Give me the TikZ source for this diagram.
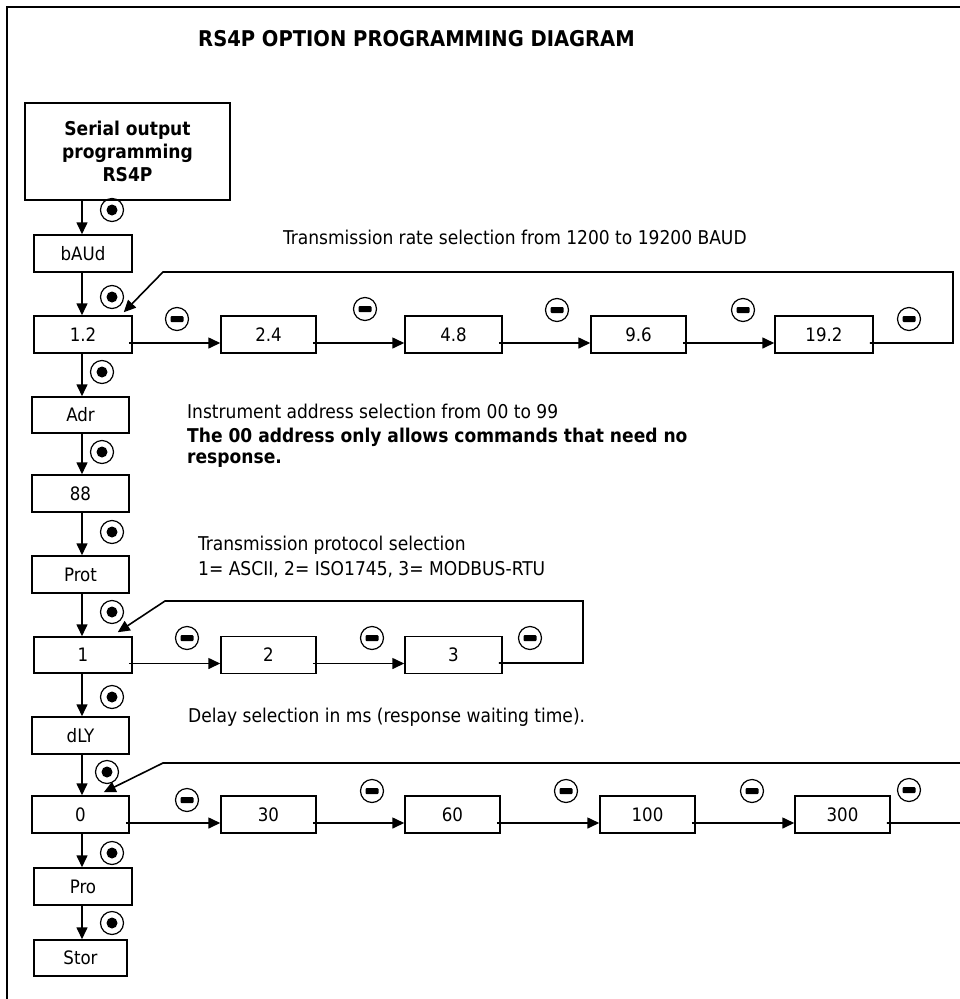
\documentclass[tikz,border=0pt]{standalone}
\usepackage{fontspec}
\setmainfont{DejaVu Sans Condensed}
\usetikzlibrary{arrows.meta,
positioning}
\tikzset{
  % boxes of the menu
  menubox/.style={draw, line width=1.5pt, minimum width=95pt, minimum height=37pt,
    inner sep=0pt, font=\fontsize{18.5}{20}\selectfont},
  % arrows from box to box
  flow/.style={draw, line width=1.6pt, -{Triangle[length=12pt,width=11pt]}},
  % the two keys of the instrument
  enterkey/.style={circle, draw, line width=1.2pt, minimum size=23pt, inner sep=0pt,
    path picture={\fill (path picture bounding box.center) circle (5.5pt);}},
  minuskey/.style={circle, draw, line width=1.2pt, minimum size=23pt, inner sep=0pt,
    path picture={\fill[rounded corners=1pt]
      ([xshift=-6.5pt,yshift=-3pt]path picture bounding box.center) rectangle
      ([xshift=6.5pt,yshift=3pt]path picture bounding box.center);}},
  note/.style={anchor=base west, inner sep=0pt, font=\fontsize{19}{20}\selectfont},
}

\begin{document}
\begin{tikzpicture}[x=1pt, y=-1pt]
            \clip (0,0) rectangle (960,999);
            \fill[white] (0,0) rectangle (960,999);
            \draw[line width=1.8pt] (7,1020) -- (7,7) -- (980,7);

            \node[font=\fontsize{21.7}{23}\selectfont\bfseries, anchor=base] (title) at (416.5,46)
              {RS4P OPTION PROGRAMMING DIAGRAM};

            % main column
            \node[menubox, minimum width=205pt, minimum height=97pt, align=center,
              font=\fontsize{19}{23}\selectfont\bfseries] (serial) at (127.5,151.5)
              {Serial output\\programming\\RS4P};
            \node[menubox, minimum width=98pt] (baud) at (83,253.5) {bAUd};
            \node[menubox, minimum width=98pt] (r12) at (83,334.5) {1.2};
            \node[menubox, minimum width=97pt, minimum height=36pt] (adr) at (80.5,415) {Adr};
            \node[menubox, minimum width=97pt] (a88) at (80.5,493.5) {88};
            \node[menubox, minimum width=97pt] (prot) at (80.5,574.5) {Prot};
            \node[menubox, minimum width=98pt, minimum height=36pt] (p1) at (83,655) {1};
            \node[menubox, minimum width=97pt] (dly) at (80.5,735.5) {dLY};
            \node[menubox, minimum width=97pt] (d0) at (80.5,814.5) {0};
            \node[menubox, minimum width=98pt] (pro) at (83,886.5) {Pro};
            \node[menubox, minimum width=93pt, minimum height=36pt] (stor) at (80.5,958) {Stor};

            % baud rate row
            \node[menubox] (r24) at (268.5,334.5) {2.4};
            \node[menubox, minimum width=97pt] (r48) at (453.5,334.5) {4.8};
            \node[menubox] (r96) at (638.5,334.5) {9.6};
            \node[menubox, minimum width=98pt] (r192) at (824,334.5) {19.2};

            % protocol row
            \node[menubox] (p2) at (268.5,655) {2};
            \node[menubox, minimum width=97pt] (p3) at (453.5,655) {3};

            % delay row
            \node[menubox] (d30) at (268.5,814.5) {30};
            \node[menubox] (d60) at (452.5,814.5) {60};
            \node[menubox] (d100) at (647.5,814.5) {100};
            \node[menubox] (d300) at (842.5,814.5) {300};

            % notes
            \node[note] (trate) at (283,244) {Transmission rate selection from 1200 to 19200 BAUD};
            \node[note] (tadr) at (187,418) {Instrument address selection from 00 to 99};
            \node[note, font=\fontsize{19}{20}\selectfont\bfseries] (tadrb) at (187,442)
              {The 00 address only allows commands that need no};
            \node[note, font=\fontsize{19}{20}\selectfont\bfseries] (tadrc) at (187,463) {response.};
            \node[note] (tprot) at (198,550) {Transmission protocol selection};
            \node[note] (tprotb) at (198,575) {1= ASCII, 2= ISO1745, 3= MODBUS-RTU};
            \node[note] (tdly) at (188,722) {Delay selection in ms (response waiting time).};

            % enter key marks
            \foreach \x/\y [count=\i] in {112/210, 112/297, 102/372, 102/452, 112/532,
              112/612, 112/697, 107/772, 112/853, 112/923}
              \node[enterkey] (ent\i) at (\x,\y) {};

            % minus key marks
            \foreach \x/\y [count=\i] in {177/319, 365/309, 557/310, 743/310, 909/319,
              187/638, 372/638, 530/638,
              187/800, 372/791, 566/791, 752/791, 909/790}
              \node[minuskey] (min\i) at (\x,\y) {};

            % downward flow
            \coordinate (spine) at (82,0);
            \foreach \a/\b in {serial/baud, baud/r12, r12/adr, adr/a88, a88/prot,
              prot/p1, p1/dly, dly/d0, d0/pro, pro/stor}
              \draw[flow] (\a.south -| spine) -- (\b.north -| spine);

            % rightward flow
            \foreach \a/\b in {r12/r24, r24/r48, r48/r96, r96/r192,
              p1/p2, p2/p3,
              d0/d30, d30/d60, d60/d100, d100/d300}
              \draw[flow] ([xshift=-4pt,yshift=-8.5pt]\a.east) -- ([yshift=-8.5pt]\b.west);

            % loops back to the first value
            \coordinate (rateR) at (953,272);
            \coordinate (rateL) at (163,272);
            \draw[flow] ([xshift=-4pt,yshift=-8.5pt]r192.east) -| (rateR) -- (rateL)
              -- ([xshift=-9pt,yshift=3pt]r12.north east);
            \coordinate (protR) at (583,601);
            \coordinate (protL) at (165,601);
            \draw[flow] ([xshift=-4pt,yshift=-8pt]p3.east) -| (protR) -- (protL)
              -- ([xshift=-15pt,yshift=4pt]p1.north east);
            \coordinate (dlyR) at (985,763);
            \coordinate (dlyL) at (163,763);
            \draw[flow] ([xshift=-4pt,yshift=-8.5pt]d300.east) -| (dlyR) -- (dlyL)
              -- ([xshift=-26pt,yshift=3pt]d0.north east);
        \end{tikzpicture}
\end{document}
